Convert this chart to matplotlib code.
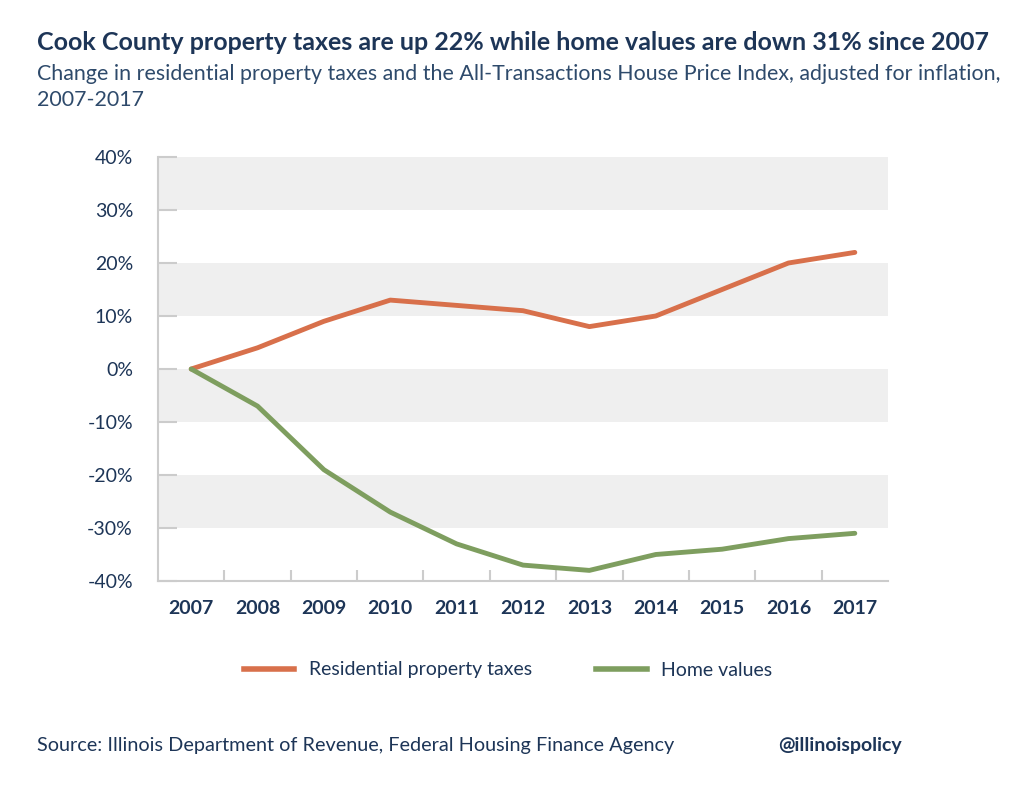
import matplotlib.pyplot as plt
from matplotlib.lines import Line2D
from matplotlib.ticker import FixedLocator

years = ["2007", "2008", "2009", "2010", "2011", "2012", "2013", "2014", "2015", "2016", "2017"]
taxes = [0, 4, 9, 13, 12, 11, 8, 10, 15, 20, 22]
homes = [0, -7, -19, -27, -33, -37, -38, -35, -34, -32, -31]
yticks = [-40, -30, -20, -10, 0, 10, 20, 30, 40]

navy = "#1d3557"
orange = "#d8704b"
green = "#7e9e5f"
grid_c = "#cccccc"

plt.rcParams['font.family'] = ['Lato', 'DejaVu Sans']

fig = plt.figure(figsize=(10.24, 7.86), dpi=100)
ax = fig.add_axes([158/1024, 1-581/786, 730/1024, 424/786])

x = range(len(years))
ax.set_xlim(-0.5, len(years) - 0.5)
ax.set_ylim(-40, 40)

# grey bands
for lo in [30, 10, -10, -30]:
    ax.axhspan(lo, lo + 10, color="#efefef", lw=0, zorder=0)

ax.plot(x, taxes, color=orange, lw=3.5, solid_capstyle="round", zorder=3)
ax.plot(x, homes, color=green, lw=3.5, solid_capstyle="round", zorder=3)

for s in ["top", "right"]:
    ax.spines[s].set_visible(False)
for s in ["left", "bottom"]:
    ax.spines[s].set_color(grid_c)
    ax.spines[s].set_linewidth(1.5)

ax.set_yticks(yticks)
ax.set_yticklabels([f"{v}%" for v in yticks], fontsize=14, color=navy)
ax.tick_params(axis="y", direction="in", length=14, width=1.5, color=grid_c, pad=18)

ax.set_xticks(list(x))
ax.set_xticklabels(years, fontsize=14, fontweight="bold", color=navy)
ax.tick_params(axis="x", length=0, pad=14)
ax.xaxis.set_minor_locator(FixedLocator([i + 0.5 for i in range(len(years) - 1)]))
ax.tick_params(axis="x", which="minor", direction="in", length=8, width=1.5, color=grid_c)

fig.text(37/1024, 1-43/786, "Cook County property taxes are up 22% while home values are down 31% since 2007",
         fontsize=18, fontweight="bold", color=navy, va="center")
fig.text(37/1024, 1-74/786, "Change in residential property taxes and the All-Transactions House Price Index, adjusted for inflation,",
         fontsize=15.4, color="#2e4a6b", va="center")
fig.text(37/1024, 1-100/786, "2007-2017", fontsize=15.4, color="#2e4a6b", va="center")

handles = [Line2D([], [], color=orange, lw=4), Line2D([], [], color=green, lw=4)]
fig.legend(handles, ["Residential property taxes", "Home values"], loc="center",
           bbox_to_anchor=(508/1024, 1-670/786), ncol=2, frameon=False, fontsize=14,
           labelcolor=navy, handlelength=2.6, handletextpad=0.75, columnspacing=3.3)

fig.text(37/1024, 1-745/786, "Source: Illinois Department of Revenue, Federal Housing Finance Agency",
         fontsize=14.3, color=navy, va="center")
fig.text(902/1024, 1-745/786, "@illinoispolicy", fontsize=14, fontweight="bold",
         color=navy, va="center", ha="right")

fig.savefig("out.png", dpi=100)
